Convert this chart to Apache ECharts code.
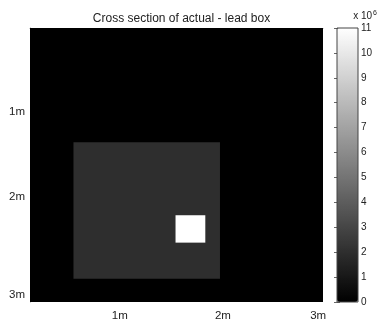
<!DOCTYPE html>
<html>
<head>
<meta charset="utf-8">
<script src="https://cdn.jsdelivr.net/npm/echarts@6/dist/echarts.min.js"></script>
<style>html,body{margin:0;padding:0;background:#fff}#c{width:383px;height:322px}</style>
</head>
<body>
<div id="c"></div>
<script>
// Regions of the cross-section: [x0, y0, x1, y1] in grid cells (0..60), and their values
var regionNames = ['background', 'lead box', 'hot spot'];
var regionX0 = [0, 8.9, 29.8];
var regionY0 = [0, 25.0, 41.0];
var regionX1 = [60, 38.9, 35.9];
var regionY1 = [60, 54.9, 47.0];
var regionValues = [0, 2.0e6, 11.0e6];

var xTickPos = [18.4, 39.5, 59.0];
var xTickLabels = ['1m', '2m', '3m'];
var yTickPos = [18.4, 37.0, 58.5];
var yTickLabels = ['1m', '2m', '3m'];

var colorMin = 0, colorMax = 11e6;

var data = regionNames.map(function (n, i) {
  return { name: n, value: [regionX0[i], regionY0[i], regionX1[i], regionY1[i], regionValues[i]] };
});

function lookup(pos, labels, v) {
  for (var i = 0; i < pos.length; i++) if (Math.abs(pos[i] - v) < 1e-6) return labels[i];
  return '';
}

var font = 'Liberation Sans, Arial, Helvetica, sans-serif';
var chart = echarts.init(document.getElementById('c'));
chart.setOption({
  animation: false,
  backgroundColor: '#fff',
  title: [{
    text: 'Cross section of actual - lead box',
    left: 176.5, top: 8, textAlign: 'center',
    textStyle: { fontSize: 12, fontWeight: 'normal', color: '#222', fontFamily: font }
  }, {
    text: 'x 10{s|6}',
    right: 6, top: 10, padding: 0,
    textStyle: { fontSize: 10, fontWeight: 'normal', color: '#222', fontFamily: font,
      rich: { s: { fontSize: 7, verticalAlign: 'top', color: '#222', fontFamily: font, padding: [0, 0, 6, 1] } } }
  }],
  grid: [
    { left: 30, top: 28, width: 293, height: 274, containLabel: false },
    { left: 337, top: 28, width: 21, height: 274, show: true, borderColor: '#444', borderWidth: 1, backgroundColor: 'transparent', z: 10 }
  ],
  xAxis: [{
    type: 'value', gridIndex: 0, min: 0, max: 60,
    splitLine: { show: false },
    axisLine: { show: true, lineStyle: { color: '#999', width: 1 } },
    axisTick: { show: false },
    axisLabel: { customValues: xTickPos, formatter: function (v) { return lookup(xTickPos, xTickLabels, v); },
      fontSize: 11.5, color: '#222', fontFamily: font, margin: 8 }
  }, {
    type: 'value', gridIndex: 1, min: 0, max: 1, show: false
  }],
  yAxis: [{
    type: 'value', gridIndex: 0, min: 0, max: 60, inverse: true,
    splitLine: { show: false },
    axisLine: { show: true, lineStyle: { color: '#999', width: 1 } },
    axisTick: { show: false },
    axisLabel: { customValues: yTickPos, formatter: function (v) { return lookup(yTickPos, yTickLabels, v); },
      fontSize: 11.5, color: '#222', fontFamily: font, margin: 5 }
  }, {
    type: 'value', gridIndex: 1, min: 0, max: 11, interval: 1, position: 'right',
    splitLine: { show: false },
    axisLine: { show: false },
    axisTick: { show: true, inside: true, length: 3, lineStyle: { color: '#666' } },
    axisLabel: { fontSize: 10, color: '#222', fontFamily: font, margin: 3 }
  }, {
    type: 'value', gridIndex: 1, min: 0, max: 11, interval: 1, position: 'left',
    splitLine: { show: false },
    axisLine: { show: false },
    axisTick: { show: true, inside: true, length: 3, lineStyle: { color: '#666' } },
    axisLabel: { show: false }
  }],
  visualMap: {
    type: 'continuous', min: colorMin, max: colorMax, dimension: 4, seriesIndex: 0,
    calculable: false, text: null, showLabel: false,
    inRange: { color: ['#000000', '#ffffff'] },
    left: 337, top: 28, itemWidth: 21, itemHeight: 274, padding: 0,
    orient: 'vertical', hoverLink: false
  },
  series: [{
    type: 'custom', xAxisIndex: 0, yAxisIndex: 0,
    encode: { x: [0, 2], y: [1, 3] },
    data: data,
    renderItem: function (params, api) {
      var p0 = api.coord([api.value(0), api.value(1)]);
      var p1 = api.coord([api.value(2), api.value(3)]);
      var x = Math.min(p0[0], p1[0]), y = Math.min(p0[1], p1[1]);
      return {
        type: 'rect',
        shape: { x: x, y: y, width: Math.abs(p1[0] - p0[0]), height: Math.abs(p1[1] - p0[1]) },
        style: { fill: api.visual('color') }
      };
    }
  }]
});
</script>
</body>
</html>
